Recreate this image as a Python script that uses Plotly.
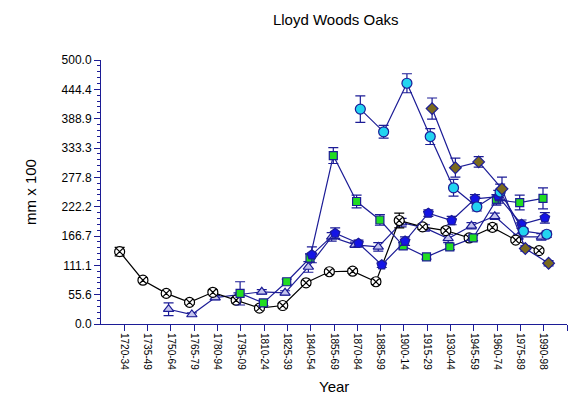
import plotly.graph_objects as go

categories = ["1720-34", "1735-49", "1750-64", "1765-79", "1780-94", "1795-09",
              "1810-24", "1825-39", "1840-54", "1855-69", "1870-84", "1885-99",
              "1900-14", "1915-29", "1930-44", "1945-59", "1960-74", "1975-89",
              "1990-98"]

N = None
black = [137, 83, 58, 41, 60, 45, 30, 35, 78, 99, 100, 80, 196, 184, 177, 163, 183, 159, 139]
black_err = [8, 4, 4, 4, 4, 5, 4, 4, 4, 4, 4, 5, 14, 5, 5, 5, 6, 4, 4]

triangle = [N, N, 28, 18, 50, 55, 61, 59, 108, 165, 150, 146, 192, 182, 162, 186, 204, 165, 165]
triangle_err = [N, N, 12, 3, 4, 4, 4, 4, 10, 8, 5, 8, 8, 6, 8, 6, 6, 5, 6]

green = [N, N, N, N, N, 58, 40, 80, 125, 319, 232, 197, 148, 127, 146, 163, 235, 230, 238]
green_err = [N, N, N, N, N, 22, 5, 5, 8, 15, 12, 10, 6, 4, 5, 5, 10, 14, 20]

pentagon = [N, N, N, N, N, N, N, N, 131, 172, 153, 112, 157, 210, 196, 237, 241, 189, 201]
pentagon_err = [N, N, N, N, N, N, N, N, 15, 10, 6, 5, 8, 6, 8, 8, 12, 8, 10]

cyan = [N, N, N, N, N, N, N, N, N, N, 407, 364, 456, 355, 258, 222, 250, 176, 170]
cyan_err = [N, N, N, N, N, N, N, N, N, N, 25, 12, 18, 15, 16, 8, 15, 5, 6]

olive = [N, N, N, N, N, N, N, N, N, N, N, N, N, 408, 296, 307, 256, 143, 115]
olive_err = [N, N, N, N, N, N, N, N, N, N, N, N, N, 20, 18, 10, 22, 5, 5]

NAVY = "#1c1c96"

# (values, errors, symbol, fill, line colour, size, x shift)
series = [
    (triangle, triangle_err, "triangle-up", "#c4c4ee", NAVY, 9, -0.1),
    (black, black_err, "circle-x", "white", "black", 10, -0.2),
    (green, green_err, "square", "#22dd22", NAVY, 8, -0.03),
    (pentagon, pentagon_err, "pentagon", "#1414e6", NAVY, 10, 0.05),
    (cyan, cyan_err, "circle", "#22d4f0", NAVY, 10, 0.13),
    (olive, olive_err, "diamond", "#7a6a1e", NAVY, 9, 0.21),
]

fig = go.Figure()
for vals, errs, sym, fill, col, size, shift in series:
    xs = [i + shift for i, v in enumerate(vals) if v is not None]
    ys = [v for v in vals if v is not None]
    es = [e for v, e in zip(vals, errs) if v is not None]
    fig.add_trace(go.Scatter(
        x=xs, y=ys, mode="lines+markers",
        line=dict(color=col, width=1.2),
        marker=dict(symbol=sym, size=size, color=fill, line=dict(color=col, width=1.2)),
        error_y=dict(type="data", array=es, color=col, thickness=1.2, width=5),
        showlegend=False,
    ))

fig.update_layout(
    width=569, height=412,
    margin=dict(l=101, r=2, t=60, b=88),
    paper_bgcolor="white", plot_bgcolor="white",
    font=dict(family="Liberation Sans, Arial, sans-serif", color="black"),
    title=dict(text="Lloyd Woods Oaks", x=0.59, xanchor="center",
               y=0.952, yanchor="middle", font=dict(size=15)),
    annotations=[
        dict(text="mm x 100", xref="paper", yref="paper", x=-0.175, y=0.5,
             showarrow=False, textangle=-90, font=dict(size=15)),
        dict(text="Year", xref="paper", yref="paper", x=0.5, y=-0.275,
             showarrow=False, font=dict(size=15)),
    ],
)
fig.update_xaxes(
    range=[-1, 19], tickmode="array",
    tickvals=list(range(20)), ticktext=categories + [""],
    tickangle=90, tickfont=dict(size=10), automargin=False,
    showgrid=False, zeroline=False,
    showline=True, linecolor=NAVY, linewidth=1,
    ticks="outside", ticklen=6, tickcolor=NAVY,
)
fig.update_yaxes(
    range=[0, 500], tick0=0, dtick=500 / 9, tickformat=".1f",
    tickfont=dict(size=12), automargin=False,
    showgrid=False, zeroline=False,
    showline=True, linecolor=NAVY, linewidth=1,
    ticks="outside", ticklen=6, tickcolor=NAVY,
    minor=dict(dtick=500 / 45, ticks="outside", ticklen=3, tickcolor=NAVY),
)

# drop the default page margin so the figure sits at the window's corner
fig.write_html("out.html", config={"displayModeBar": False},
               post_script="document.body.style.margin='0';")
